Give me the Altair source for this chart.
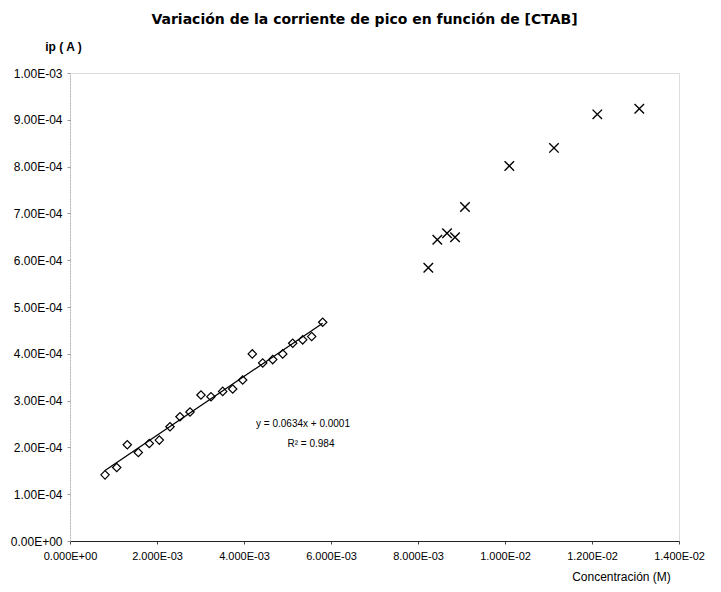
import json
import altair as alt
import pandas as pd

# --- data ---
ctab_conc = [0.805e-3, 1.074e-3, 1.317e-3, 1.570e-3, 1.823e-3, 2.053e-3, 2.299e-3, 2.529e-3,
             2.759e-3, 3.011e-3, 3.241e-3, 3.510e-3, 3.740e-3, 3.970e-3, 4.191e-3, 4.430e-3,
             4.660e-3, 4.890e-3, 5.120e-3, 5.349e-3, 5.556e-3, 5.809e-3]
ctab_ip = [1.413e-4, 1.570e-4, 2.056e-4, 1.891e-4, 2.084e-4, 2.156e-4, 2.441e-4, 2.655e-4,
           2.756e-4, 3.120e-4, 3.084e-4, 3.197e-4, 3.248e-4, 3.441e-4, 3.998e-4, 3.805e-4,
           3.876e-4, 3.998e-4, 4.225e-4, 4.298e-4, 4.368e-4, 4.675e-4]

high_conc = [8.237e-3, 8.444e-3, 8.667e-3, 8.851e-3, 9.080e-3, 10.099e-3, 11.126e-3,
             12.122e-3, 13.087e-3]
high_ip = [5.839e-4, 6.439e-4, 6.574e-4, 6.488e-4, 7.137e-4, 8.015e-4, 8.400e-4,
           9.116e-4, 9.235e-4]

x_ticks = [0, 0.002, 0.004, 0.006, 0.008, 0.010, 0.012, 0.014]
x_tick_labels = ["0.000E+00", "2.000E-03", "4.000E-03", "6.000E-03", "8.000E-03",
                 "1.000E-02", "1.200E-02", "1.400E-02"]
y_ticks = [0, 1e-4, 2e-4, 3e-4, 4e-4, 5e-4, 6e-4, 7e-4, 8e-4, 9e-4, 1e-3]
y_tick_labels = ["0.00E+00", "1.00E-04", "2.00E-04", "3.00E-04", "4.00E-04", "5.00E-04",
                 "6.00E-04", "7.00E-04", "8.00E-04", "9.00E-04", "1.00E-03"]

title_text = "Variación de la corriente de pico en función de [CTAB]"
x_title = "Concentración (M)"
y_title = "ip ( A )"
fit_eq = "y = 0.0634x + 0.0001"
fit_r2 = "R² = 0.984"

FONT = "Liberation Sans"

low_df = pd.DataFrame({"conc": ctab_conc, "ip": ctab_ip})
high_df = pd.DataFrame({"conc": high_conc, "ip": high_ip})

x_scale = alt.Scale(domain=[0, 0.014], nice=False, zero=False)
y_scale = alt.Scale(domain=[0, 0.001], nice=False, zero=False)

x_axis = alt.Axis(
    values=x_ticks,
    labelExpr=f"{json.dumps(x_tick_labels)}[round(datum.value / 0.002)]",
    title=x_title, titleX=551, titleY=35, titleAlign="center", titleBaseline="middle",
    titleFont=FONT, titleFontSize=12, titleFontWeight="normal", titleColor="#000",
    labelFont=FONT, labelFontSize=11, labelColor="#000", labelPadding=6,
    grid=False, domainColor="#222", domainWidth=1, tickSize=3, tickColor="#444",
    labelFlush=False, labelOverlap=False,
)
y_axis = alt.Axis(
    values=y_ticks,
    labelExpr=f"{json.dumps(y_tick_labels)}[round(datum.value / 0.0001)]",
    title=y_title, titleAngle=0, titleX=-7, titleY=-27, titleAlign="center",
    titleBaseline="middle", titleFont=FONT, titleFontSize=12, titleFontWeight="bold",
    titleColor="#000",
    labelFont=FONT, labelFontSize=12, labelColor="#000", labelPadding=5,
    grid=False, domainColor="#999", domainDash=[1, 2], tickSize=3, tickColor="#999",
    labelFlush=False, labelOverlap=False,
)

base_x = alt.X("conc:Q", scale=x_scale, axis=x_axis)
base_y = alt.Y("ip:Q", scale=y_scale, axis=y_axis)

diamonds = alt.Chart(low_df).mark_point(
    shape="diamond", filled=False, color="#000", size=70, strokeWidth=1.2, opacity=1
).encode(x=base_x, y=base_y)

crosses = alt.Chart(high_df).mark_point(
    shape="M-1,-1L1,1M-1,1L1,-1", filled=False, color="#000", size=90, strokeWidth=1.4,
    opacity=1
).encode(x=alt.X("conc:Q", scale=x_scale), y=alt.Y("ip:Q", scale=y_scale))

trend = alt.Chart(low_df).transform_regression(
    "conc", "ip", method="linear"
).mark_line(color="#000", strokeWidth=1.3).encode(
    x=alt.X("conc:Q", scale=x_scale), y=alt.Y("ip:Q", scale=y_scale)
)

eq_text = alt.Chart(pd.DataFrame({"t": [fit_eq]})).mark_text(
    font=FONT, fontSize=10, color="#000", align="center", baseline="middle"
).encode(x=alt.value(233), y=alt.value(351), text="t:N")

r2_text = alt.Chart(pd.DataFrame({"t": [fit_r2]})).mark_text(
    font=FONT, fontSize=10, color="#000", align="center", baseline="middle"
).encode(x=alt.value(241), y=alt.value(371), text="t:N")

chart = alt.layer(diamonds, trend, crosses, eq_text, r2_text).properties(
    width=609,
    height=468,
    title=alt.TitleParams(
        title_text, anchor="middle", font="DejaVu Sans", fontSize=14, fontWeight="bold",
        color="#000", offset=13, dx=-10
    ),
    padding={"left": 62, "top": 65, "right": 34, "bottom": 47},
    autosize=alt.AutoSizeParams(type="none"),
).configure_view(stroke=None).configure(background="white")

chart.save("out.html", embed_options={"renderer": "svg", "actions": False})
